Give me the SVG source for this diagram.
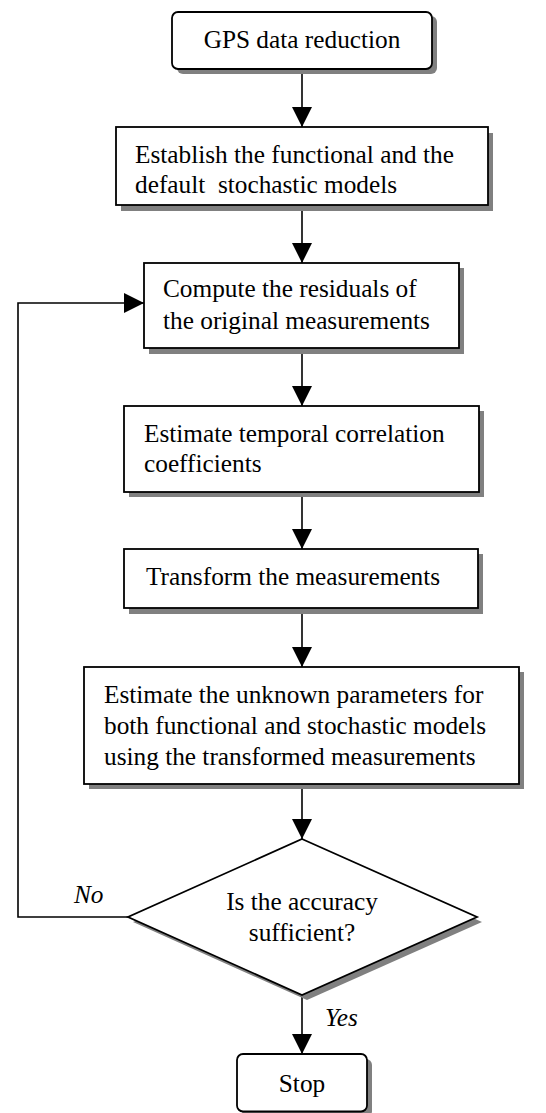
<svg xmlns="http://www.w3.org/2000/svg" width="546" height="1113" viewBox="0 0 546 1113">
  <style>
    .box { fill: #ffffff; stroke: #000000; stroke-width: 1.8; }
    .shadow { fill: #808080; stroke: none; }
    .line { fill: none; stroke: #000000; stroke-width: 1.6; }
    text { font-family: 'Liberation Serif', Times, 'DejaVu Serif', serif; font-size: 25.3px; fill: #000000; }
    .c { text-anchor: middle; }
    .lbl { font-style: italic; }
  </style>
  <defs>
    <marker id="arrow" markerUnits="userSpaceOnUse" markerWidth="20" markerHeight="20" refX="20" refY="10" orient="auto">
      <path d="M0,0 L20,10 L0,20 Z" fill="#000000"/>
    </marker>
  </defs>

  <rect width="546" height="1113" fill="#ffffff"/>

  <!-- connectors -->
  <g id="connectors">
    <line class="line" x1="302" y1="69" x2="302" y2="127" marker-end="url(#arrow)"/>
    <line class="line" x1="302" y1="205" x2="302" y2="263" marker-end="url(#arrow)"/>
    <line class="line" x1="302" y1="348" x2="302" y2="406" marker-end="url(#arrow)"/>
    <line class="line" x1="302" y1="492" x2="302" y2="549" marker-end="url(#arrow)"/>
    <line class="line" x1="302" y1="608" x2="302" y2="667" marker-end="url(#arrow)"/>
    <line class="line" x1="302" y1="784" x2="302" y2="839" marker-end="url(#arrow)"/>
    <line class="line" x1="302" y1="995" x2="302" y2="1054" marker-end="url(#arrow)"/>
    <!-- "No" branch loops back to the residual computation -->
    <polyline class="line" points="128,917 18,917 18,303 144,303" marker-end="url(#arrow)"/>
    <text class="lbl" x="74" y="903" font-family="Liberation Serif">No</text>
    <text class="lbl" x="325" y="1026" font-family="Liberation Serif">Yes</text>
  </g>

  <g font-family="Liberation Serif">
  <!-- start terminal -->
  <g id="start">
    <rect class="shadow" x="177" y="16" width="260" height="58" rx="6"/>
    <rect class="box" x="172" y="12" width="260" height="57" rx="6"/>
    <text class="c" x="302" y="48">GPS data reduction</text>
  </g>

  <g id="establish">
    <rect class="shadow" x="121" y="133" width="372" height="78"/>
    <rect class="box" x="116" y="127" width="372" height="78"/>
    <text x="135" y="163">Establish the functional and the</text>
    <text x="135" y="193" xml:space="preserve">default  stochastic models</text>
  </g>

  <g id="residuals">
    <rect class="shadow" x="149" y="268" width="315" height="86"/>
    <rect class="box" x="144" y="263" width="315" height="85"/>
    <text x="163" y="297">Compute the residuals of</text>
    <text x="163" y="329">the original measurements</text>
  </g>

  <g id="correlation">
    <rect class="shadow" x="129" y="411" width="355" height="86"/>
    <rect class="box" x="124" y="406" width="355" height="86"/>
    <text x="144" y="442">Estimate temporal correlation</text>
    <text x="144" y="472">coefficients</text>
  </g>

  <g id="transform">
    <rect class="shadow" x="129" y="554" width="354" height="60"/>
    <rect class="box" x="124" y="549" width="354" height="59"/>
    <text x="146" y="585">Transform the measurements</text>
  </g>

  <g id="estimate">
    <rect class="shadow" x="89" y="672" width="435" height="117"/>
    <rect class="box" x="84" y="667" width="435" height="117"/>
    <text x="104" y="703">Estimate the unknown parameters for</text>
    <text x="104" y="734">both functional and stochastic models</text>
    <text x="104" y="765">using the transformed measurements</text>
  </g>

  <g id="decision">
    <polygon class="shadow" points="307,844 482,922 307,1000 133,922"/>
    <polygon class="box" points="302,839 477,917 302,995 128,917"/>
    <text class="c" x="302" y="910">Is the accuracy</text>
    <text class="c" x="302" y="941">sufficient?</text>
  </g>

  <g id="stop">
    <rect class="shadow" x="242" y="1059" width="130" height="58" rx="6"/>
    <rect class="box" x="237" y="1054" width="130" height="57.5" rx="6"/>
    <text class="c" x="302" y="1092">Stop</text>
  </g>
  </g>
</svg>
